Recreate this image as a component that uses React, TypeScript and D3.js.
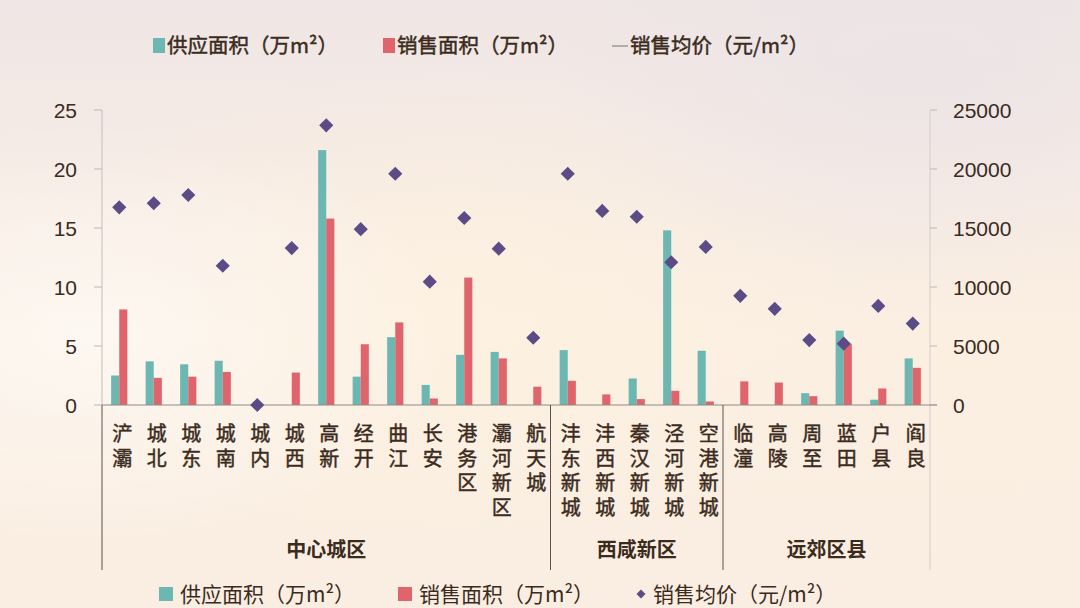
import React from "react";
import * as d3 from "d3";

const categories = ["浐灞","城北","城东","城南","城内","城西","高新","经开","曲江","长安","港务区","灞河新区","航天城","沣东新城","沣西新城","秦汉新城","泾河新城","空港新城","临潼","高陵","周至","蓝田","户县","阎良"];
const supply = [2.5,3.7,3.45,3.75,0,0,21.6,2.4,5.75,1.7,4.25,4.5,0,4.65,0,2.25,14.8,4.6,0,0,1.0,6.3,0.45,3.95];
const sales = [8.1,2.3,2.4,2.8,0,2.75,15.8,5.15,7.0,0.55,10.8,3.95,1.55,2.05,0.9,0.5,1.2,0.3,2.0,1.9,0.75,5.2,1.4,3.15];
const price = [16750,17100,17800,11800,0,13300,23700,14900,19600,10450,15850,13250,5700,19600,16450,15950,12100,13400,9250,8150,5500,5200,8400,6900];
const groups = [
  { name: "中心城区", start: 0, end: 13 },
  { name: "西咸新区", start: 13, end: 18 },
  { name: "远郊区县", start: 18, end: 24 },
];
const leftTicks = [0,5,10,15,20,25];
const rightTicks = [0,5000,10000,15000,20000,25000];
const legendLabels = ["供应面积（万m²）","销售面积（万m²）","销售均价（元/m²）"];

const TEAL = "#6db7b3";
const RED = "#e0646b";
const PURPLE = "#5c4c86";
const TEXT = "#3a2b1d";
const CJK = "'Noto Sans CJK SC', 'Noto Sans', sans-serif";
const NUM = "'Liberation Sans', Arial, sans-serif";

export default function App() {
  const W = 1080, H = 608;
  const x0 = 102, x1 = 930, yTop = 110, yBase = 405, yBottom = 570;
  const x = d3.scaleBand<string>().domain(categories).range([x0, x1]);
  const yL = d3.scaleLinear().domain([0, 25]).range([yBase, yTop]);
  const yR = d3.scaleLinear().domain([0, 25000]).range([yBase, yTop]);
  const bw = x.bandwidth() * 0.235;
  const cx = (c: string) => (x(c) as number) + x.bandwidth() / 2;
  const diamond = d3.symbol().type(d3.symbolSquare).size(100)() as string;
  const edge = (i: number) => x0 + x.step() * i;

  return (
    <div style={{ position: "fixed", left: 0, top: 0, width: W, height: H }}>
      <svg width={W} height={H} style={{ display: "block" }}>
        <defs>
          <linearGradient id="bg" x1="0" y1="0" x2="0" y2="1">
            <stop offset="0" stopColor="#efe6e5" />
            <stop offset="0.3" stopColor="#f6ebe4" />
            <stop offset="0.55" stopColor="#fbefe2" />
            <stop offset="1" stopColor="#faeee2" />
          </linearGradient>
          <radialGradient id="glowL" cx="0.08" cy="0.55" r="0.35">
            <stop offset="0" stopColor="#ffffff" stopOpacity="0.55" />
            <stop offset="1" stopColor="#ffffff" stopOpacity="0" />
          </radialGradient>
          <radialGradient id="glowC" cx="0.42" cy="0.5" r="0.4">
            <stop offset="0" stopColor="#fdf1e0" stopOpacity="0.8" />
            <stop offset="1" stopColor="#fdf1e0" stopOpacity="0" />
          </radialGradient>
          <radialGradient id="glowTR" cx="0.85" cy="0.1" r="0.35">
            <stop offset="0" stopColor="#ece4e6" stopOpacity="0.9" />
            <stop offset="1" stopColor="#ece4e6" stopOpacity="0" />
          </radialGradient>
        </defs>
        <rect width={W} height={H} fill="url(#bg)" />
        <rect width={W} height={H} fill="url(#glowC)" />
        <rect width={W} height={H} fill="url(#glowTR)" />
        <rect width={W} height={H} fill="url(#glowL)" />

        {/* top legend */}
        <g fontFamily={CJK} fontSize={20.5} fill={TEXT} stroke={TEXT} strokeWidth={0.45}>
          <rect x={153} y={38} width={12} height={15} fill={TEAL} stroke="none" />
          <text x={167} y={53}>{legendLabels[0]}</text>
          <rect x={383} y={38} width={12} height={15} fill={RED} stroke="none" />
          <text x={397} y={53}>{legendLabels[1]}</text>
          <line x1={612} x2={628} y1={46} y2={46} stroke="#9a9a9a" strokeWidth={1.5} />
          <text x={630} y={53}>{legendLabels[2]}</text>
        </g>

        {/* axes */}
        <line x1={x0} x2={x0} y1={yTop} y2={yBase} stroke="#c4bebb" strokeWidth={1} />
        <line x1={x1} x2={x1} y1={yTop} y2={yBottom} stroke="#d3cdca" strokeWidth={1} />
        {leftTicks.map((t) => (
          <g key={"l" + t}>
            <line x1={x0 - 8} x2={x0} y1={yL(t)} y2={yL(t)} stroke="#bdb7b4" />
            <text x={77} y={yL(t)} dy="0.36em" textAnchor="end" fontFamily={NUM} fontSize={21} fill={TEXT}>{t}</text>
          </g>
        ))}
        {rightTicks.map((t) => (
          <g key={"r" + t}>
            <line x1={x1} x2={x1 + 7} y1={yR(t)} y2={yR(t)} stroke="#bdb7b4" />
            <text x={953} y={yR(t)} dy="0.36em" textAnchor="start" fontFamily={NUM} fontSize={21} fill={TEXT}>{t}</text>
          </g>
        ))}

        {/* bars */}
        {categories.map((c, i) => (
          <g key={"b" + c}>
            {supply[i] > 0 && (
              <rect x={cx(c) - bw} y={yL(supply[i])} width={bw} height={yBase - yL(supply[i])} fill={TEAL} />
            )}
            {sales[i] > 0 && (
              <rect x={cx(c)} y={yL(sales[i])} width={bw} height={yBase - yL(sales[i])} fill={RED} />
            )}
          </g>
        ))}
        <line x1={x0} x2={x1 + 7} y1={yBase} y2={yBase} stroke="#8f8a86" strokeWidth={1.2} />

        {/* diamonds */}
        {categories.map((c, i) => (
          <path key={"d" + c} d={diamond} transform={`translate(${cx(c)},${yR(price[i])}) rotate(45)`} fill={PURPLE} />
        ))}

        {/* category labels, one character per line */}
        {categories.map((c) =>
          Array.from(c).map((ch, k) => (
            <text key={"t" + c + k} x={cx(c) + 3} y={441 + k * 24.5} fontFamily={CJK} fontSize={20} fill={TEXT} stroke={TEXT} strokeWidth={0.45} textAnchor="middle">{ch}</text>
          ))
        )}

        {/* group separators */}
        {[0, 13, 18].map((i) => (
          <line key={"s" + i} x1={edge(i)} x2={edge(i)} y1={yBase} y2={yBottom} stroke="#5a524c" strokeWidth={1} />
        ))}
        {groups.map((g) => (
          <text key={g.name} x={(edge(g.start) + edge(g.end)) / 2} y={557} textAnchor="middle" fontFamily={CJK} fontSize={20} fontWeight={700} fill={TEXT}>{g.name}</text>
        ))}

        {/* bottom legend */}
        <g fontFamily={CJK} fontSize={21} fill={TEXT}>
          <rect x={159} y={587} width={14} height={14} fill={TEAL} />
          <text x={180} y={602}>{legendLabels[0]}</text>
          <rect x={398} y={587} width={14} height={14} fill={RED} />
          <text x={419} y={602}>{legendLabels[1]}</text>
          <path d={d3.symbol().type(d3.symbolSquare).size(40)() as string} transform="translate(641,594) rotate(45)" fill={PURPLE} />
          <text x={653} y={602}>{legendLabels[2]}</text>
        </g>
      </svg>
    </div>
  );
}
